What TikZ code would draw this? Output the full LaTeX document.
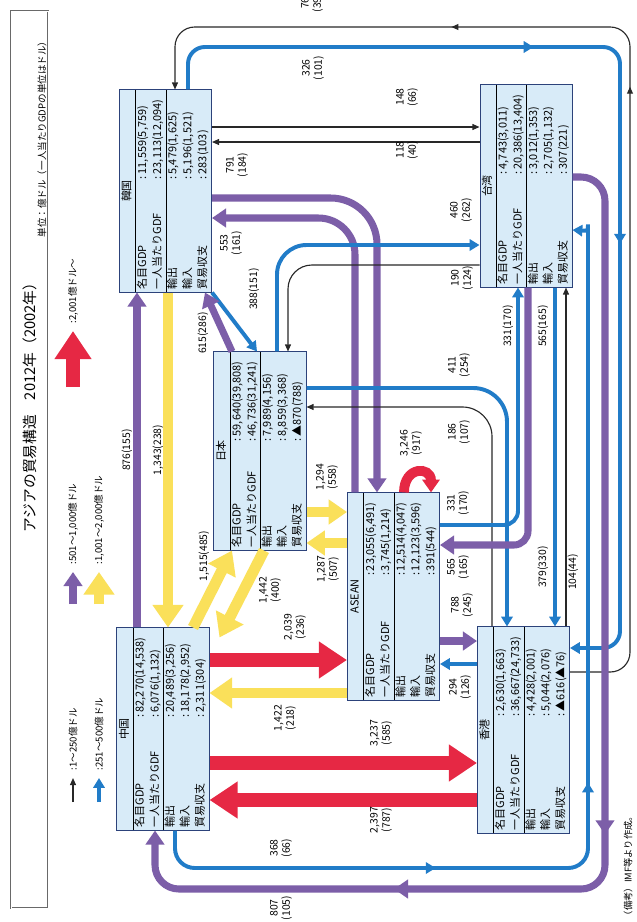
\documentclass[tikz,border=0pt]{standalone}
\usepackage{fontspec}
\setmainfont{Noto Sans CJK JP}
\usetikzlibrary{arrows.meta, calc, decorations.markings}

\definecolor{boxfill}{RGB}{216,235,248}
\definecolor{boxline}{RGB}{44,66,122}
\definecolor{linek}{RGB}{40,40,40}
\definecolor{lineb}{RGB}{33,124,200}
\definecolor{linep}{RGB}{124,94,168}
\definecolor{liney}{RGB}{250,224,90}
\definecolor{liner}{RGB}{230,40,68}
\definecolor{framegray}{RGB}{105,105,105}

% 国・地域の表
\newcommand\countrytab[7]{%
  \begin{tabular*}{#1}{@{\hspace{2pt}}l@{\extracolsep{\fill}}l@{\hspace{7pt}}}
    \multicolumn{2}{c}{#2}\\\hline
    名目GDP & :\,#3\\
    一人当たりGDF & :\,#4\\\hline
    輸出 & :\,#5\\
    輸入 & :\,#6\\
    貿易収支 & :\,#7
  \end{tabular*}}

\tikzset{
  tipK/.tip={Triangle[width=4.2pt,length=5pt]},
  tipB/.tip={Triangle[width=8pt,length=7pt]},
  tipP/.tip={Triangle[width=13pt,length=10pt]},
  tipY/.tip={Triangle[width=21pt,length=16pt]},
  tipR/.tip={Triangle[width=25pt,length=20pt]},
  cbox/.style={draw=boxline, line width=0.7pt, fill=boxfill, rotate=90, inner sep=0pt,
    minimum height=2.3cm, font=\fontsize{7.8}{10.6}\selectfont},
  lbl/.style={rotate=90, align=center, inner sep=1pt, font=\fontsize{7.4}{8.8}\selectfont},
  lgd/.style={rotate=90, inner sep=1pt, font=\fontsize{6.8}{8}\selectfont},
  flowK/.style={color=linek, line width=0.8pt, -{tipK}},
  flowB/.style={color=lineb, line width=2.8pt, -{tipB}},
  flowP/.style={color=linep, line width=5pt, -{tipP}},
  flowY/.style={color=liney, line width=7.8pt, -{tipY}},
  flowR/.style={color=liner, line width=10pt, -{tipR}},
  midK/.style={postaction={decorate, decoration={markings, mark=at position #1 with {\arrow{tipK}}}}},
  midB/.style={postaction={decorate, decoration={markings, mark=at position #1 with {\arrow{tipB}}}}},
  midP/.style={postaction={decorate, decoration={markings, mark=at position #1 with {\arrow{tipP}}}}}
}

\begin{document}
\begin{tikzpicture}[x=0.025cm, y=-0.025cm]
    \useasboundingbox[fill=white] (0,0) rectangle (637,922);

    % 表題と凡例
    \draw[framegray, line width=0.6pt, double=white, double distance=0.7pt] (11,11) rectangle (48,908);
    \node[rotate=90, font=\fontsize{10.5}{12}\selectfont] (title) at (30,404) {アジアの貿易構造　2012年（2002年）};
    \node[lgd] (unit) at (42,137) {単位：億ドル（一人当たりGDPの単位はドル）};
    \node[lgd, anchor=west] (lgk) at (73,772) {:1～250億ドル};
    \node[lgd, anchor=west] (lgb) at (99,772) {:251～500億ドル};
    \node[lgd, anchor=west] (lgp) at (73,566) {:501～1,000億ドル};
    \node[lgd, anchor=west] (lgy) at (99,566) {:1,001～2,000億ドル};
    \node[lgd, anchor=west] (lgr) at (73,325) {:2,001億ドル～};
    \draw[flowK] ($(lgk.west)+(0,30)$) -- ($(lgk.west)+(0,6)$);
    \draw[flowB] ($(lgb.west)+(0,30)$) -- ($(lgb.west)+(0,6)$);
    \draw[flowP] ($(lgp.west)+(0,38)$) -- ($(lgp.west)+(0,6)$);
    \draw[flowY] ($(lgy.west)+(0,38)$) -- ($(lgy.west)+(0,6)$);
    \draw[flowR] ($(lgr.west)+(0,62)$) -- ($(lgr.west)+(0,6)$);
    \node[lgd, font=\fontsize{6.6}{8}\selectfont] (note) at (628,866) {（備考）IMF等より作成。};

    % 国・地域
    \node[cbox] (korea) at (165.5,191) {\countrytab{5.05cm}{韓国}{11,559(5,759)}{23,113(12,094)}{5,479(1,625)}{5,196(1,521)}{283(103)}};
    \node[cbox] (taiwan) at (526,186) {\countrytab{5.05cm}{台湾}{4,743(3,011)}{20,386(13,404)}{3,012(1,353)}{2,705(1,132)}{307(221)}};
    \node[cbox] (japan) at (260,451) {\countrytab{4.95cm}{日本}{59,640(39,808)}{46,736(31,241)}{7,989(4,156)}{8,859(3,368)}{▲870(788)}};
    \node[cbox] (asean) at (393.5,596.5) {\countrytab{5.18cm}{ASEAN}{23,055(6,491)}{3,745(1,214)}{12,514(4,047)}{12,123(3,596)}{391(544)}};
    \node[cbox] (china) at (163,729) {\countrytab{5.05cm}{中国}{82,270(14,538)}{6,076(1,132)}{20,489(3,256)}{18,178(2,952)}{2,311(304)}};
    \node[cbox] (hk) at (523.5,730) {\countrytab{5.15cm}{香港}{2,630(1,663)}{36,667(24,733)}{4,428(2,001)}{5,044(2,076)}{▲616(▲76)}};

    % 外回りの流れ
    \draw[flowK, rounded corners=14pt, midK=0.532, midK=0.724] (hk.south |- 0,672) -| (630,27) -| (korea.east -| 175,0);
    \draw[flowB, rounded corners=12pt, midB=0.345, midB=0.595] (korea.east -| 188,0) |- (620,47) |- (hk.south |- 0,648);
    \draw[flowB, rounded corners=14pt, midB=0.264, midB=0.473] (china.west -| 175,0) |- (588,868) -- (588,244) .. controls (588,231) .. (taiwan.south |- 0,230);
    \draw[flowP, rounded corners=17pt, midP=0.556, midP=0.765] (taiwan.south |- 0,177) -| (605,889) -| (china.west -| 155,0);

    % 韓国・台湾・日本
    \draw[flowK] (korea.south |- 0,127) -- (taiwan.north |- 0,127);
    \draw[flowK] (taiwan.north |- 0,142) -- (korea.south |- 0,142);
    \draw[flowP, rounded corners=33pt] (korea.south |- 0,198) -| (asean.east -| 377,0);
    \draw[flowP, rounded corners=26pt] (asean.east -| 355,0) |- (korea.south |- 0,218);
    \draw[flowB, rounded corners=21pt] (japan.east -| 277,0) |- (taiwan.north |- 0,245);
    \draw[flowK, rounded corners=17pt] (taiwan.north |- 0,265) -| (japan.east -| 288,0);
    \draw[flowB] (korea.south west) -- (japan.east -| 257,0);
    \draw[flowP] (japan.east -| 232,0) -- (korea.west -| 205,0);
    \draw[flowY] (korea.west -| 168,0) -- (china.east -| 168,0);
    \draw[flowP] (china.east -| 137,0) -- (korea.west -| 137,0);

    % 日本・ASEAN・台湾・香港
    \draw[flowB, rounded corners=24pt] (japan.south |- 0,388) -| (hk.east -| 507,0);
    \draw[flowK, rounded corners=21pt] (hk.east -| 492,0) |- (japan.south |- 0,407);
    \draw[flowB, rounded corners=10pt] (asean.south |- 0,525) -| (taiwan.west -| 518,0);
    \draw[flowP, rounded corners=10pt] (taiwan.west -| 528,0) |- (asean.south |- 0,545);
    \draw[flowB] (taiwan.west -| 555,0) -- (hk.east -| 555,0);
    \draw[flowK] (hk.east -| 566,0) -- (taiwan.west -| 566,0);
    \draw[flowP] (asean.south |- 0,641) -- (hk.north |- 0,641);
    \draw[flowB] (hk.north |- 0,664) -- (asean.south |- 0,664);
    \draw[flowY, -{Triangle[width=17pt,length=13pt]}] (japan.south |- 0,512) -- (asean.north |- 0,512);
    \draw[flowY, -{Triangle[width=17pt,length=13pt]}] (asean.north |- 0,543) -- (japan.south |- 0,543);
    \draw[color=liner, line width=7pt, -{Triangle[width=12pt,length=9pt]}] (asean.east -| 404,0) .. controls (404,466) and (431,466) .. (asean.east -| 431,0);

    % 中国から
    \draw[flowY] (china.east -| 193,0) -- (japan.west -| 232,0);
    \draw[flowY] (japan.west -| 264,0) -- ([shift={(10,10)}]china.south east);
    \draw[flowR] (china.south |- 0,660) -- (asean.north |- 0,660);
    \draw[flowY] (asean.north |- 0,693) -- (china.south |- 0,693);
    \draw[flowR] (china.south |- 0,763) -- (hk.north |- 0,763);
    \draw[flowR] (hk.north |- 0,800) -- (china.south |- 0,800);

    % 金額
    \node[lbl] (lab76) at (312,3) {76\\(39)};
    \node[lbl] (lab326) at (313,68) {326\\(101)};
    \node[lbl] (lab148) at (407,97) {148\\(66)};
    \node[lbl] (lab118) at (407,150) {118\\(40)};
    \node[lbl] (lab791) at (237,165) {791\\(184)};
    \node[lbl] (lab553) at (231,243) {553\\(161)};
    \node[lbl] (lab460) at (461,210) {460\\(262)};
    \node[lbl] (lab190) at (462,278) {190\\(124)};
    \node[lbl] (lab388) at (254,289) {388(151)};
    \node[lbl] (lab615) at (203,333) {615(286)};
    \node[lbl] (lab876) at (127,450) {876(155)};
    \node[lbl] (lab1343) at (158,450) {1,343(238)};
    \node[lbl] (lab411) at (459,365) {411\\(254)};
    \node[lbl] (lab186) at (459,432) {186\\(107)};
    \node[lbl] (lab3246) at (411,443) {3,246\\(917)};
    \node[lbl] (lab1294) at (327,477) {1,294\\(558)};
    \node[lbl] (lab1287) at (328,569) {1,287\\(507)};
    \node[lbl] (lab331a) at (458,503) {331\\(170)};
    \node[lbl] (lab565a) at (458,567) {565\\(165)};
    \node[lbl] (lab788) at (462,605) {788\\(245)};
    \node[lbl] (lab294) at (460,687) {294\\(126)};
    \node[lbl] (lab331b) at (508,326) {331(170)};
    \node[lbl] (lab565b) at (543,326) {565(165)};
    \node[lbl] (lab379) at (543,567) {379(330)};
    \node[lbl] (lab104) at (573,572) {104(44)};
    \node[lbl] (lab1515) at (204,556) {1,515(485)};
    \node[lbl] (lab1442) at (270,590) {1,442\\(400)};
    \node[lbl] (lab2039) at (295,627) {2,039\\(236)};
    \node[lbl] (lab1422) at (285,718) {1,422\\(218)};
    \node[lbl] (lab3237) at (381,733) {3,237\\(585)};
    \node[lbl] (lab2397) at (381,820) {2,397\\(787)};
    \node[lbl] (lab368) at (281,848) {368\\(66)};
    \node[lbl] (lab807) at (281,908) {807\\(105)};
\end{tikzpicture}
\end{document}
